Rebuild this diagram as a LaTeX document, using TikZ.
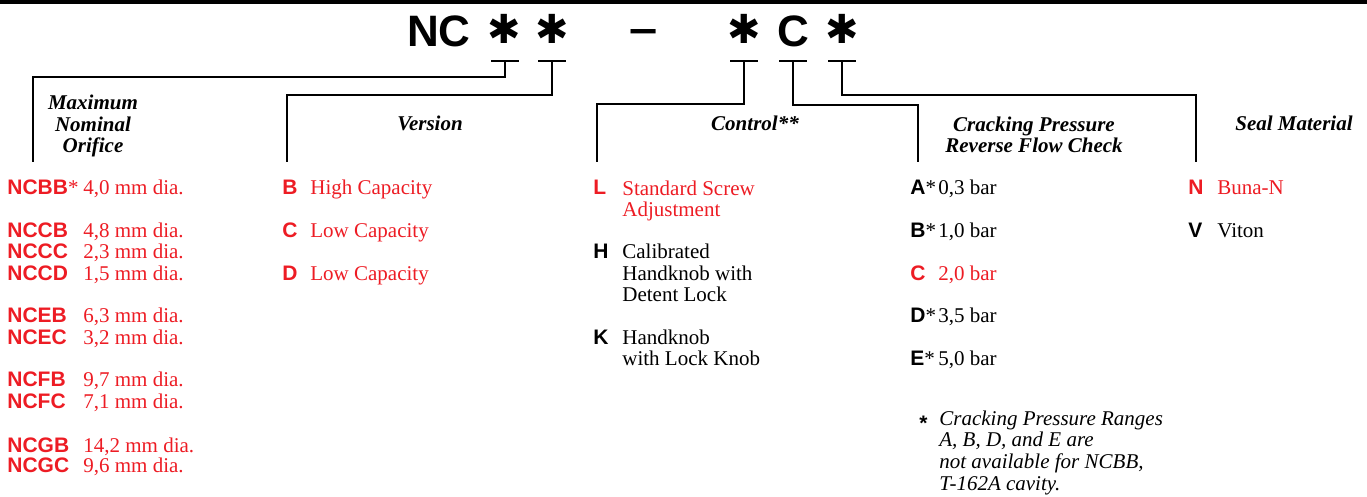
\documentclass[tikz,border=0pt]{standalone}
\usepackage{fontspec}
\setmainfont{Liberation Serif}
\setsansfont{Liberation Sans}
\newfontfamily\symfont{DejaVu Sans}
\definecolor{ncred}{RGB}{237,28,36}
\newcommand{\kc}[1]{\textsf{\textbf{#1}}}
\tikzset{
	bracket/.style={line width=1.4pt},
	item/.style={anchor=base west,inner sep=0pt,align=left,font=\fontsize{10.5}{10.75}\selectfont},
	sel/.style={item,text=ncred},
	head/.style={anchor=base,inner sep=0pt,align=center,font=\fontsize{10.5}{10.75}\selectfont\bfseries\itshape},
	title/.style={inner sep=0pt,font=\fontsize{22}{22}\selectfont\sffamily\bfseries},
	star/.style={inner sep=0pt,font=\fontsize{20}{20}\selectfont\symfont}
}
\begin{document}
\begin{tikzpicture}[x=0.5pt,y=-0.5pt]
	\useasboundingbox (0,0) rectangle (1367,497);
	\fill (0,0) rectangle (1367,4);
	
	% model code
	\node[title,anchor=base] (nc) at (439,47) {NC};
	\node[star] (s1) at (504,29) {✱};
	\node[star] (s2) at (552,29) {✱};
	\node[title,anchor=base] (dash) at (644,44) {\scalebox{1.15}[1]{–}};
	\node[star] (s3) at (744,29) {✱};
	\node[title,anchor=base] (cc) at (793,47) {C};
	\node[star] (s4) at (842,29) {✱};
	
	\coordinate (b1) at (505,61);
	\coordinate (b2) at (552,61);
	\coordinate (b3) at (744,61);
	\coordinate (b4) at (793,61);
	\coordinate (b5) at (842,61);
	\coordinate (e1) at (33,162);
	\coordinate (e2) at (287,162);
	\coordinate (e3) at (597,162);
	\coordinate (e4) at (918,162);
	\coordinate (e5) at (1196,162);
	
	\foreach \b in {b1,b2,b3,b4,b5}
		\draw[bracket] (\b) +(-14,0) -- +(14,0);
	\draw[bracket] (b1) -- ++(0,16) -| (e1);
	\draw[bracket] (b2) -- ++(0,34) -| (e2);
	\draw[bracket] (b3) -- ++(0,43) -| (e3);
	\draw[bracket] (b4) -- ++(0,44) -| (e4);
	\draw[bracket] (b5) -- ++(0,34) -| (e5);
	
	% headings (base = last line)
	\node[head] (orifice) at (93,153) {Maximum\\Nominal\\Orifice};
	\node[head] (version) at (430,131) {Version};
	\node[head] (control) at (755,131) {Control**};
	\node[head] (cracking) at (1034,153) {Cracking Pressure\\Reverse Flow Check};
	\node[head] (seal) at (1294,131) {Seal Material};
	
	% orifice
	\node[sel] (ncbb) at (7,195) {\kc{NCBB}*};
	\node[sel] (ncbbv) at (83,195) {4,0 mm dia.};
	\node[sel] (nccb) at (7,238) {\kc{NCCB}};
	\node[sel] (nccbv) at (83,238) {4,8 mm dia.};
	\node[sel] (nccc) at (7,259) {\kc{NCCC}};
	\node[sel] (ncccv) at (83,259) {2,3 mm dia.};
	\node[sel] (nccd) at (7,281) {\kc{NCCD}};
	\node[sel] (nccdv) at (83,281) {1,5 mm dia.};
	\node[sel] (nceb) at (7,323) {\kc{NCEB}};
	\node[sel] (ncebv) at (83,323) {6,3 mm dia.};
	\node[sel] (ncec) at (7,345) {\kc{NCEC}};
	\node[sel] (ncecv) at (83,345) {3,2 mm dia.};
	\node[sel] (ncfb) at (7,387) {\kc{NCFB}};
	\node[sel] (ncfbv) at (83,387) {9,7 mm dia.};
	\node[sel] (ncfc) at (7,409) {\kc{NCFC}};
	\node[sel] (ncfcv) at (83,409) {7,1 mm dia.};
	\node[sel] (ncgb) at (7,452) {\kc{NCGB}};
	\node[sel] (ncgbv) at (83,452) {14,2 mm dia.};
	\node[sel] (ncgc) at (7,473) {\kc{NCGC}};
	\node[sel] (ncgcv) at (83,473) {9,6 mm dia.};
	
	% version
	\node[sel] (verb) at (282,195) {\kc{B}};
	\node[sel] (verbv) at (310,195) {High Capacity};
	\node[sel] (verc) at (282,238) {\kc{C}};
	\node[sel] (vercv) at (310,238) {Low Capacity};
	\node[sel] (verd) at (282,281) {\kc{D}};
	\node[sel] (verdv) at (310,281) {Low Capacity};
	
	% control
	\node[sel] (ctll) at (593,195) {\kc{L}};
	\node[sel] (ctllv) at (622,217) {Standard Screw\\Adjustment};
	\node[item] (ctlh) at (593,259) {\kc{H}};
	\node[item] (ctlhv) at (622,302) {Calibrated\\Handknob with\\Detent Lock};
	\node[item] (ctlk) at (593,345) {\kc{K}};
	\node[item] (ctlkv) at (622,366) {Handknob\\with Lock Knob};
	
	% cracking pressure
	\node[item] (cpa) at (910,195) {\kc{A}*};
	\node[item] (cpav) at (938,195) {0,3 bar};
	\node[item] (cpb) at (910,238) {\kc{B}*};
	\node[item] (cpbv) at (938,238) {1,0 bar};
	\node[sel] (cpc) at (910,281) {\kc{C}};
	\node[sel] (cpcv) at (938,281) {2,0 bar};
	\node[item] (cpd) at (910,323) {\kc{D}*};
	\node[item] (cpdv) at (938,323) {3,5 bar};
	\node[item] (cpe) at (910,366) {\kc{E}*};
	\node[item] (cpev) at (938,366) {5,0 bar};
	
	% seal
	\node[sel] (sealn) at (1188,195) {\kc{N}};
	\node[sel] (sealnv) at (1217,195) {Buna-N};
	\node[item] (sealv) at (1188,238) {\kc{V}};
	\node[item] (sealvv) at (1217,238) {Viton};
	
	% footnote
	\node[item] (fnstar) at (919,430) {\kc{*}};
	\node[item,font=\fontsize{10.5}{10.75}\selectfont\itshape] (fn) at (939,490) {Cracking Pressure Ranges\\A, B, D, and E are\\not available for NCBB,\\T-162A cavity.};
\end{tikzpicture}
\end{document}
